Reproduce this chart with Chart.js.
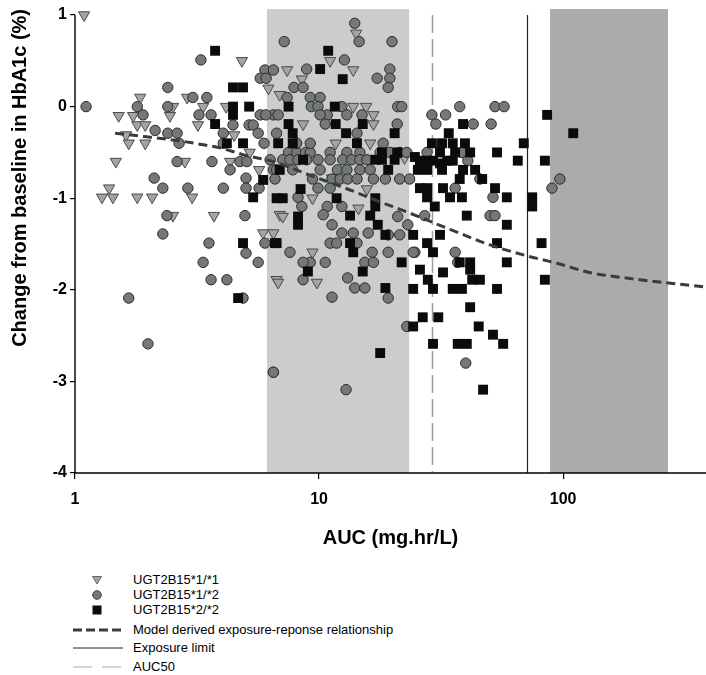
<!DOCTYPE html>
<html><head><meta charset="utf-8">
<script src="https://cdn.jsdelivr.net/npm/chart.js@4/dist/chart.umd.min.js"></script>
<style>
html,body{margin:0;padding:0;background:#fff;}
#wrap{position:relative;width:706px;height:675px;overflow:hidden;background:#fff;}
#c{position:absolute;left:0;top:0;}
#lgsym{position:absolute;left:0;top:560px;}
.lg{position:absolute;left:133px;font-family:"Liberation Sans",Arial,sans-serif;font-size:13px;line-height:15px;color:#000;white-space:nowrap;}
</style></head><body>
<div id="wrap">
<canvas id="c" width="706" height="554"></canvas>
<svg id="lgsym" width="200" height="115" xmlns="http://www.w3.org/2000/svg">
  <polygon points="92.5,16.5 101.5,16.5 97,24" fill="#a4a4a4" stroke="#666" stroke-width="1"/>
  <circle cx="97" cy="35" r="4.3" fill="#75787a" stroke="#444" stroke-width="1"/>
  <rect x="92.5" y="45.5" width="9" height="9" fill="#0b0b0b"/>
  <line x1="73" y1="70" x2="123" y2="70" stroke="#383c3e" stroke-width="3" stroke-dasharray="9,4"/>
  <line x1="73" y1="88" x2="123" y2="88" stroke="#222" stroke-width="1"/>
  <line x1="73" y1="107" x2="123" y2="107" stroke="#aaa" stroke-width="1.2" stroke-dasharray="19,10"/>
</svg>
<div class="lg" style="top:572px">UGT2B15*1/*1</div>
<div class="lg" style="top:587px">UGT2B15*1/*2</div>
<div class="lg" style="top:602px">UGT2B15*2/*2</div>
<div class="lg" style="top:622px">Model derived exposure-reponse relationship</div>
<div class="lg" style="top:640px">Exposure limit</div>
<div class="lg" style="top:659px">AUC50</div>
</div>
<script>
// ---- Data (AUC mg.hr/L, change from baseline in HbA1c %) ----
const wt11Points = [[1.09,1.0],[4.83,0.50],[1.85,0.10],[2.88,0.10],[1.51,-0.10],[1.73,-0.10],[2.45,-0.10],[2.52,0.0],[3.35,0.0],[4.16,0.0],[1.80,-0.20],[1.94,-0.20],[3.19,-0.20],[1.62,-0.31],[1.66,-0.40],[1.94,-0.40],[4.49,-0.31],[1.47,-0.60],[2.82,-0.60],[4.32,-0.60],[5.2,-0.50],[6.2,0.20],[5.68,-0.69],[1.38,-0.89],[1.29,-0.99],[1.43,-0.99],[1.80,-0.99],[2.07,-0.99],[3.02,-0.99],[2.52,-1.19],[3.71,-1.19],[5.9,-1.38],[6.5,-1.38],[6.7,-1.89],[6.9,-1.18],[6.9,0.13],[14.2,0.80],[11.1,0.50],[13.8,0.40],[7.4,0.40],[8.5,0.30],[13.8,0.0],[15.6,0.0],[16.7,-0.09],[16.7,-0.19],[8.6,-0.19],[11.7,-0.40],[16.2,-0.40],[7.1,-1.20],[9.4,-1.0],[14.5,-1.11],[15.7,-0.90],[11.3,-0.78],[9.4,-1.59],[6.8,-1.92],[9.8,-1.92],[22.4,-0.56],[40.7,-0.50]];

const het12Points = [[1.11,0.0],[3.28,0.51],[2.40,0.21],[1.80,0.0],[1.90,-0.09],[2.40,0.0],[3.04,0.10],[3.47,0.10],[3.22,-0.09],[3.61,-0.09],[2.13,-0.26],[2.40,-0.29],[2.62,-0.29],[2.67,-0.40],[4.05,-0.29],[4.44,-0.20],[5.17,-0.20],[5.37,-0.20],[5.74,-0.09],[5.63,-0.29],[5.95,-0.40],[4.05,-0.40],[2.62,-0.60],[3.64,-0.60],[4.74,-0.60],[5.06,-0.60],[4.32,-0.69],[2.11,-0.78],[2.29,-0.89],[2.90,-0.89],[4.05,-0.89],[5.02,-0.78],[5.02,-0.89],[5.68,-0.89],[6.0,0.40],[6.5,0.40],[5.74,0.31],[6.07,0.31],[6.3,-0.58],[6.5,-0.69],[6.5,-0.09],[2.38,-1.19],[4.97,-1.19],[2.29,-1.39],[3.54,-1.49],[5.02,-1.60],[5.63,-1.70],[3.35,-1.70],[3.61,-1.89],[4.19,-1.89],[6.0,-1.49],[1.66,-2.09],[4.88,-2.09],[1.99,-2.59],[6.5,-2.90],
[14.0,0.91],[14.6,0.71],[7.2,0.71],[19.9,0.71],[12.7,0.51],[8.9,0.41],[19.5,0.41],[17.3,0.31],[19.5,0.31],[19.2,0.21],[7.9,0.21],[8.6,0.21],[7.4,0.10],[9.2,0.10],[10.1,0.10],[9.3,0.0],[9.9,0.0],[12.4,0.0],[21.0,0.0],[21.8,0.0],[6.05,-0.09],[6.8,-0.09],[10.8,-0.09],[10.1,-0.09],[13.0,-0.09],[15.0,-0.09],[20.9,-0.19],[6.7,-0.29],[10.6,-0.19],[14.3,-0.29],
[7.5,-0.50],[8.1,-0.50],[8.8,-0.50],[9.2,-0.50],[11.1,-0.50],[13.0,-0.50],[14.7,-0.50],[17.8,-0.50],[19.5,-0.50],[21.4,-0.50],[22.9,-0.50],[8.1,-0.40],[9.2,-0.40],[18.3,-0.40],
[7.1,-0.58],[7.6,-0.58],[8.2,-0.58],[8.9,-0.58],[9.9,-0.58],[11.1,-0.58],[12.5,-0.58],[13.6,-0.58],[14.7,-0.58],[15.7,-0.58],
[6.7,-0.69],[7.8,-0.69],[10.1,-0.69],[11.9,-0.69],[13.0,-0.69],[14.7,-0.69],[16.2,-0.69],
[6.6,-0.79],[9.4,-0.79],[11.3,-0.79],[12.2,-0.79],[13.1,-0.79],[14.3,-0.79],[16.7,-0.79],[18.7,-0.79],[21.4,-0.79],[23.5,-0.79],
[9.9,-0.89],[11.1,-0.89],[8.2,-0.99],[8.5,-1.09],[10.8,-1.09],[12.4,-1.09],[10.4,-1.18],[11.3,-1.29],[12.4,-1.38],[13.8,-1.38],[15.9,-1.38],[11.1,-1.49],[11.8,-1.49],[14.3,-1.49],[7.6,-1.59],[16.5,-1.59],[9.2,-1.70],[10.6,-1.70],[8.6,-1.70],[15.4,-1.70],[16.7,-1.70],[19.2,-1.59],[8.6,-1.89],[13.1,-1.87],[14.0,-1.98],[15.4,-1.98],[11.3,-2.08],[24.7,-1.59],[23.1,-1.29],[21.4,-1.40],[19.2,-1.40],[21.0,-1.20],[19.2,-2.09],[12.9,-3.09],[22.9,-2.40],[6.5,-2.90],
[29.0,-0.09],[33.0,-0.09],[37.7,0.0],[52.6,0.0],[57.3,0.0],[30.1,-0.19],[42.8,-0.19],[50.7,-0.19],[27.7,-0.50],[38.5,-0.50],[40.7,-0.59],[45.6,-0.79],[36.1,-0.89],[51.6,-0.99],[50.2,-1.19],[52.6,-1.19],[27.1,-1.19],[90.0,-0.89],[97.0,-0.79],[24.3,-1.59],[36.1,-1.59],[37.0,-1.70],[39.9,-2.80]];

const mut22Points = [[3.75,0.61],[4.44,0.21],[4.88,0.21],[4.44,0.0],[4.44,-0.09],[5.17,0.0],[3.75,-0.19],[4.19,-0.40],[4.88,-0.40],[5.9,-0.80],[5.37,-0.99],[4.88,-1.49],[4.66,-2.09],[6.6,-1.49],
[10.9,0.61],[10.1,0.41],[12.5,0.30],[7.5,0.0],[11.6,0.0],[7.5,-0.19],[11.7,-0.19],[15.1,-0.19],[7.8,-0.29],[12.9,-0.29],[20.4,-0.29],[6.8,-0.40],[7.8,-0.40],[14.3,-0.40],[18.1,-0.50],[20.9,-0.50],[7.1,-1.0],[6.7,-1.0],[8.4,-0.90],[11.8,-1.0],[8.2,-1.2],[8.2,-1.29],[13.4,-1.19],[17.0,-1.0],[17.0,-1.09],[16.2,-1.19],[17.4,-1.29],[18.7,-1.40],[6.7,-1.49],[13.4,-1.49],[13.8,-1.59],[9.0,-1.80],[15.1,-1.80],[21.8,-1.70],[18.7,-1.98],[17.0,-0.58],[18.1,-0.58],[20.4,-0.58],[19.2,-0.69],[6.9,-0.69],[8.6,-0.58],[24.3,-1.99],[24.3,-2.40],[17.8,-2.69],
[38.9,-0.19],[34.0,-0.29],[29.0,-0.40],[31.9,-0.40],[35.3,-0.40],[39.6,-0.40],[53.6,-0.50],[69.0,-0.40],[86.0,-0.09],[31.3,-0.50],[65.2,-0.59],[84.2,-0.59],[24.7,-0.55],[25.9,-0.59],[27.7,-0.59],[29.3,-0.59],[31.3,-0.62],[33.5,-0.59],[35.3,-0.59],[25.4,-0.69],[27.7,-0.69],[31.9,-0.69],[38.9,-0.69],[43.6,-0.69],[37.7,-0.79],[46.6,-0.79],[25.9,-0.89],[27.7,-0.89],[32.2,-0.89],[52.6,-0.89],[27.7,-0.99],[34.4,-0.99],[38.5,-0.99],[58.8,-0.99],[74.7,-0.99],[74.7,-1.09],[29.8,-1.09],[40.3,-1.19],[58.8,-1.29],[24.3,-1.40],[31.3,-1.40],[53.6,-1.49],[27.7,-1.49],[29.3,-1.59],[81.6,-1.49],[41.6,-1.70],[37.7,-1.70],[25.9,-1.78],[32.2,-1.81],[58.8,-1.70],[41.6,-1.78],[45.6,-1.89],[42.4,-1.89],[27.9,-1.89],[84.2,-1.89],[29.3,-1.99],[35.3,-1.99],[38.5,-1.99],[53.6,-1.99],[36.1,-0.50],[41.6,-0.50],[41.6,-2.19],[26.6,-2.30],[30.8,-2.30],[45.1,-2.40],[51.6,-2.49],[56.8,-2.59],[29.3,-2.59],[37.0,-2.59],[40.3,-2.59],[47.0,-3.09],[110,-0.29]];

const modelAUC    = [1.46, 1.97, 2.62, 3.25, 3.93, 4.97, 6.5, 9.2, 13.4, 17.8, 22.9, 34.4, 50.2, 71.2, 94.4, 128, 207, 385];
const modelChange = [-0.29,-0.33,-0.37,-0.41,-0.45,-0.53,-0.60,-0.75,-0.91,-1.04,-1.15,-1.34,-1.51,-1.63,-1.71,-1.81,-1.89,-1.97];

const xTickValues = [1, 10, 100];
const yTickValues = [-4, -3, -2, -1, 0, 1];
const lightBand = [6.12, 23.4];
const darkBand  = [88.4, 269];
const auc50 = 29.0;
const exposureLimit = 71.2;

const FONT = '"Liberation Sans", Arial, sans-serif';
const toXY = arr => arr.map(p => ({x: p[0], y: p[1]}));

const bgPlugin = {
  id: 'bg',
  beforeDatasetsDraw(chart) {
    const {ctx, chartArea: a, scales: {x, y}} = chart;
    ctx.save();
    ctx.fillStyle = '#cccccc';
    ctx.fillRect(x.getPixelForValue(lightBand[0]), a.top, x.getPixelForValue(lightBand[1]) - x.getPixelForValue(lightBand[0]), a.bottom - a.top);
    ctx.fillStyle = '#a9abac';
    ctx.fillRect(x.getPixelForValue(darkBand[0]), a.top, x.getPixelForValue(darkBand[1]) - x.getPixelForValue(darkBand[0]), a.bottom - a.top);
    const yt = y.getPixelForValue(1), yb = a.bottom;
    ctx.strokeStyle = '#9e9e9e'; ctx.lineWidth = 1.5; ctx.setLineDash([18, 6]);
    let px = Math.round(x.getPixelForValue(auc50)) + 0.5;
    ctx.beginPath(); ctx.moveTo(px, yt); ctx.lineTo(px, yb); ctx.stroke();
    ctx.setLineDash([]); ctx.strokeStyle = '#222'; ctx.lineWidth = 1.2;
    px = Math.round(x.getPixelForValue(exposureLimit)) + 0.5;
    ctx.beginPath(); ctx.moveTo(px, yt); ctx.lineTo(px, yb); ctx.stroke();
    ctx.restore();
  },
  afterDraw(chart) {
    const {ctx, chartArea: a, scales: {y}} = chart;
    ctx.save();
    ctx.strokeStyle = '#000'; ctx.lineWidth = 1.4;
    ctx.beginPath();
    ctx.moveTo(a.left, y.getPixelForValue(1));
    ctx.lineTo(a.left, a.bottom);
    ctx.lineTo(a.right, a.bottom);
    ctx.stroke();
    ctx.restore();
  }
};

new Chart(document.getElementById('c').getContext('2d'), {
  type: 'scatter',
  data: {
    datasets: [
      {label: 'Model derived exposure-reponse relationship', type: 'line', data: modelAUC.map((v, i) => ({x: v, y: modelChange[i]})),
       borderColor: '#383c3e', borderWidth: 3, borderDash: [9, 5], pointRadius: 0, fill: false, cubicInterpolationMode: 'monotone', order: 0, clip: false},
      {label: 'UGT2B15*2/*2', data: toXY(mut22Points), pointStyle: 'rect', pointRadius: 7, pointBackgroundColor: '#0b0b0b', pointBorderWidth: 0, pointBorderColor: '#0b0b0b', order: 1, clip: false},
      {label: 'UGT2B15*1/*2', data: toXY(het12Points), pointStyle: 'circle', pointRadius: 5.2, pointBackgroundColor: '#75787a', pointBorderColor: '#2b2b2b', pointBorderWidth: 1, order: 2, clip: false},
      {label: 'UGT2B15*1/*1', data: toXY(wt11Points), pointStyle: 'triangle', pointRotation: 180, pointRadius: 6.5, pointBackgroundColor: '#a4a4a4', pointBorderColor: '#4a4a4a', pointBorderWidth: 1, order: 3, clip: false}
    ]
  },
  options: {
    responsive: false, animation: false, devicePixelRatio: 1,
    layout: {autoPadding: false, padding: {top: 9, right: 0, left: 0, bottom: 0}},
    plugins: {legend: {display: false}, tooltip: {enabled: false}},
    scales: {
      x: {
        type: 'logarithmic', min: 1, max: 385,
        afterBuildTicks: s => { s.ticks = xTickValues.map(v => ({value: v})); },
        afterFit: s => { s.height = 81; s.paddingLeft = 0; s.paddingRight = 0; },
        ticks: {callback: v => String(v), font: {family: FONT, size: 16, weight: 'bold'}, color: '#000', padding: 11, maxRotation: 0, autoSkip: false},
        grid: {drawOnChartArea: false, drawTicks: true, tickLength: 6, color: '#000', lineWidth: 1.2},
        border: {display: false},
        title: {display: true, text: 'AUC (mg.hr/L)', font: {family: FONT, size: 20, weight: 'bold'}, color: '#000', padding: {top: 0, bottom: 4}}
      },
      y: {
        min: -4, max: 1.066,
        afterBuildTicks: s => { s.ticks = yTickValues.map(v => ({value: v})); },
        afterFit: s => { s.width = 75; s.paddingTop = 0; s.paddingBottom = 0; },
        ticks: {callback: v => String(v), font: {family: FONT, size: 16, weight: 'bold'}, color: '#000', padding: 3},
        grid: {drawOnChartArea: false, drawTicks: true, tickLength: 5, color: '#000', lineWidth: 1.2},
        border: {display: false},
        title: {display: true, text: 'Change from baseline in HbA1c (%)', align: 'end', font: {family: FONT, size: 20, weight: 'bold'}, color: '#000', padding: {top: 8, bottom: 0}}
      }
    }
  },
  plugins: [bgPlugin]
});
</script>
</body></html>
